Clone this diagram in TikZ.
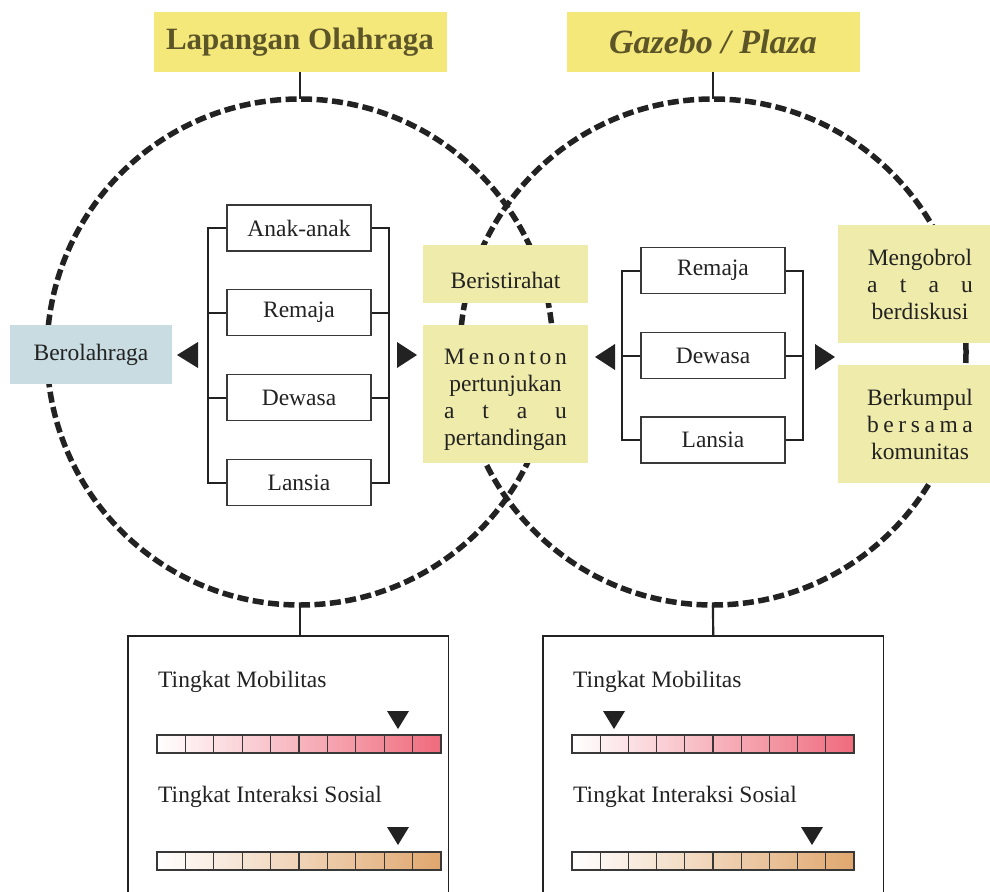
\documentclass[tikz,border=0pt]{standalone}
\usepackage{fontspec}
\setmainfont{Liberation Serif}
\definecolor{titlefill}{HTML}{F5E87A}
\definecolor{titletext}{HTML}{5C5528}
\definecolor{midyel}{HTML}{EFEBAA}
\definecolor{bluebox}{HTML}{C8DCE2}
\definecolor{barred}{HTML}{EF6B7D}
\definecolor{bartan}{HTML}{E0A76E}
\definecolor{ink}{HTML}{222222}
\newcommand\mybody{\fontsize{23.5}{27}\selectfont}
\newcommand\mytitle{\fontsize{31}{36}\selectfont\bfseries}
\newlength\spwa
\newlength\spwb
\begin{document}
\settowidth\spwa{\mybody pertandingan}%
\settowidth\spwb{\mybody Berkumpul}%
\begin{tikzpicture}[x=1pt,y=-1pt,
 dcirc/.style={draw=ink, line width=5.5pt, dash pattern=on 11pt off 4.5pt},
 titlebox/.style={fill=titlefill, minimum width=293pt, minimum height=60pt, inner sep=0pt, text=titletext, font=\mytitle},
 agebox/.style={draw=ink!90, line width=1.5pt, fill=white, minimum width=144pt, minimum height=46pt, inner sep=0pt, font=\mybody, text=ink},
 conn/.style={draw=ink, line width=2.2pt},
 brk/.style={draw=ink, line width=2pt},
 actbox/.style={fill=midyel, inner sep=0pt, align=center, font=\mybody, text=ink},
 marker/.style={fill=ink},
 cellbox/.style={draw=ink!90, line width=1.3pt},
 lbl/.style={font=\mybody, text=ink, inner sep=0pt, anchor=base west},
 panel/.style={minimum width=#1, minimum height=270pt, anchor=north west, inner sep=0pt}
]
\useasboundingbox (0,0) rectangle (990,891);
\fill[white] (0,0) rectangle (990,891);

% circles
\draw[dcirc] (300,352) circle[radius=253];
\draw[dcirc] (713,352) circle[radius=253];
\coordinate (c1top) at (300,99);
\coordinate (c2top) at (713,99);
\coordinate (c1bot) at (300,605);
\coordinate (c2bot) at (713,605);

% titles
\node[titlebox] (t1) at (300,42) {Lapangan Olahraga};
\node[titlebox, font=\fontsize{34}{38}\selectfont\bfseries\itshape] (t2) at (713,42) {Gazebo / Plaza};
\draw[conn] (t1.south) -- (c1top);
\draw[conn] (t2.south) -- (c2top);

% left group
\node[agebox] (a1) at (299,228) {Anak-anak};
\node[agebox] (a2) at (299,312.5) {Remaja};
\node[agebox] (a3) at (299,397.5) {Dewasa};
\node[agebox] (a4) at (299,482.5) {Lansia};
\coordinate (bl) at (208,0);
\coordinate (br) at (389,0);
\draw[brk] (a1.west) -- (a1.west -| bl) -- (a4.west -| bl) -- (a4.west);
\draw[brk] (a2.west) -- (a2.west -| bl);
\draw[brk] (a3.west) -- (a3.west -| bl);
\draw[brk] (a1.east) -- (a1.east -| br) -- (a4.east -| br) -- (a4.east);
\draw[brk] (a2.east) -- (a2.east -| br);
\draw[brk] (a3.east) -- (a3.east -| br);
\fill[marker] (177,355) -- (198,342) -- (198,368) -- cycle;
\fill[marker] (417,355) -- (397,342) -- (397,368) -- cycle;

\node[fill=bluebox, minimum width=162pt, minimum height=59pt, inner sep=0pt, font=\mybody, text=ink] (olah) at (91,354.5) {Berolahraga};

% middle activities
\node[actbox, minimum width=165pt, minimum height=58pt] (rest) at (505.5,274) {\rule{0pt}{29pt}Beristirahat};
\node[actbox, minimum width=165pt, minimum height=138pt] (nonton) at (505.5,394) {\rule{0pt}{28pt}\hbox to \spwa{M\hfil e\hfil n\hfil o\hfil n\hfil t\hfil o\hfil n}\\ \hbox to \spwa{\hfil pertunjukan\hfil}\\ \hbox to \spwa{a\hfil t\hfil a\hfil u}\\ \hbox to \spwa{pertandingan}};

% right group
\node[agebox] (b1) at (713,270.5) {Remaja};
\node[agebox] (b2) at (713,355.5) {Dewasa};
\node[agebox] (b3) at (713,440) {Lansia};
\coordinate (cl) at (622,0);
\coordinate (cr) at (803,0);
\draw[brk] (b1.west) -- (b1.west -| cl) -- (b3.west -| cl) -- (b3.west);
\draw[brk] (b2.west) -- (b2.west -| cl);
\draw[brk] (b1.east) -- (b1.east -| cr) -- (b3.east -| cr) -- (b3.east);
\draw[brk] (b2.east) -- (b2.east -| cr);
\fill[marker] (595,357) -- (615,344) -- (615,370) -- cycle;
\fill[marker] (835,357) -- (815,344) -- (815,370) -- cycle;

\node[actbox, minimum width=164pt, minimum height=118pt] (ngobrol) at (920,284) {\hbox to \spwb{\hfil Mengobrol\hfil}\\ \hbox to \spwb{a\hfil t\hfil a\hfil u}\\ \hbox to \spwb{\hfil berdiskusi\hfil}};
\node[actbox, minimum width=164pt, minimum height=118pt] (kumpul) at (920,424) {\hbox to \spwb{Berkumpul}\\ \hbox to \spwb{b\hfil e\hfil r\hfil s\hfil a\hfil m\hfil a}\\ \hbox to \spwb{\hfil komunitas\hfil}};

% bottom panels
\node[panel=320pt] (p1) at (128,636) {};
\node[panel=340pt] (p2) at (543,636) {};
\draw[line width=1.5pt, draw=ink] (p1.south west) -- (p1.north west) -- (p1.north east) -- (p1.south east);
\draw[line width=1.5pt, draw=ink] (p2.south west) -- (p2.north west) -- (p2.north east) -- (p2.south east);
\draw[conn] (c1bot) -- (c1bot |- p1.north);
\draw[conn] (c2bot) -- (p2.north);

% left panel content
\node[lbl] (l1) at (158,687) {Tingkat Mobilitas};
\node[lbl] (l2) at (158,802) {Tingkat Interaksi Sosial};
\shade[left color=white, right color=barred] (157,735) rectangle (441,753);
\foreach \i in {1,...,9} \draw[cellbox] ({157+28.4*\i},735) -- ({157+28.4*\i},753);
\draw[cellbox] (157,735) rectangle (441,753);
\shade[left color=white, right color=bartan] (157,852) rectangle (441,870);
\foreach \i in {1,...,9} \draw[cellbox] ({157+28.4*\i},852) -- ({157+28.4*\i},870);
\draw[cellbox] (157,852) rectangle (441,870);
\fill[marker] (387,711) -- (409,711) -- (398,729) -- cycle;
\fill[marker] (387,827) -- (409,827) -- (398,845) -- cycle;

% right panel content
\node[lbl] (r1) at (573,687) {Tingkat Mobilitas};
\node[lbl] (r2) at (573,802) {Tingkat Interaksi Sosial};
\shade[left color=white, right color=barred] (572,735) rectangle (854,753);
\foreach \i in {1,...,9} \draw[cellbox] ({572+28.2*\i},735) -- ({572+28.2*\i},753);
\draw[cellbox] (572,735) rectangle (854,753);
\shade[left color=white, right color=bartan] (572,852) rectangle (854,870);
\foreach \i in {1,...,9} \draw[cellbox] ({572+28.2*\i},852) -- ({572+28.2*\i},870);
\draw[cellbox] (572,852) rectangle (854,870);
\fill[marker] (603,711) -- (625,711) -- (614,729) -- cycle;
\fill[marker] (801,827) -- (823,827) -- (812,845) -- cycle;
\end{tikzpicture}
\end{document}
